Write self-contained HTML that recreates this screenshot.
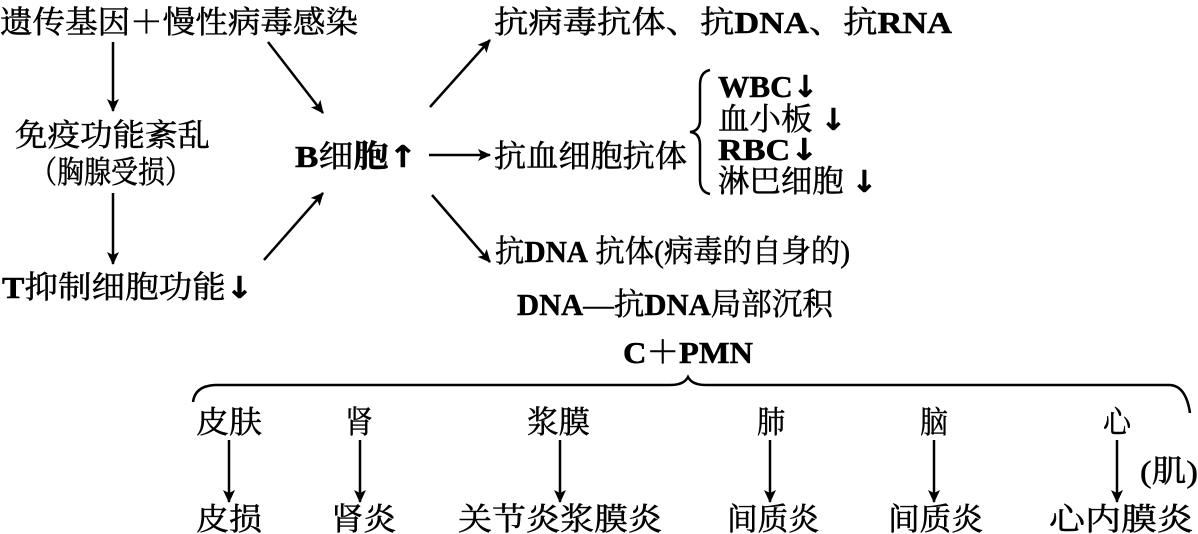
<!DOCTYPE html>
<html><head><meta charset="utf-8"><style>
html,body{margin:0;padding:0;background:#fff;}
svg{display:block;}
text{font-family:"Liberation Serif","Noto Serif CJK SC",serif;fill:#000;font-size:31px;stroke:#000;stroke-width:0.5px;}
.b{font-weight:bold;}
.ar{font-family:"DejaVu Sans",sans-serif;font-weight:bold;font-size:30px;}
</style></head><body>
<svg width="1198" height="534" viewBox="0 0 1198 534" xmlns="http://www.w3.org/2000/svg">
<defs>
<marker id="a" markerWidth="14" markerHeight="14" refX="12" refY="6" orient="auto" markerUnits="userSpaceOnUse">
<path d="M0,0 L13,6 L0,12 L3,6 Z" fill="#000"/>
</marker>
</defs>
<g stroke="#000" stroke-width="2.5" fill="none">
<line x1="113" y1="42" x2="113" y2="111" marker-end="url(#a)"/>
<line x1="113" y1="193" x2="113" y2="264" marker-end="url(#a)"/>
<line x1="268" y1="42" x2="323" y2="113" marker-end="url(#a)"/>
<line x1="264" y1="260" x2="323" y2="193" marker-end="url(#a)"/>
<line x1="430" y1="107" x2="490" y2="40" marker-end="url(#a)"/>
<line x1="429" y1="155" x2="490" y2="155" marker-end="url(#a)"/>
<line x1="432" y1="195" x2="490" y2="262" marker-end="url(#a)"/>
<path d="M710,70 Q700,72 700,85 L700,120 Q700,131 690,132 Q700,133 700,145 L700,180 Q700,192 710,194"/>
<path d="M193,402 Q195,386 215,385 L670,385 Q684,385 688,377 Q692,385 706,385 L1170,385 Q1186,386 1190,413"/>
<line x1="229" y1="440" x2="229" y2="502" marker-end="url(#a)"/>
<line x1="360" y1="440" x2="360" y2="502" marker-end="url(#a)"/>
<line x1="560" y1="440" x2="560" y2="502" marker-end="url(#a)"/>
<line x1="770" y1="440" x2="770" y2="502" marker-end="url(#a)"/>
<line x1="934" y1="440" x2="934" y2="502" marker-end="url(#a)"/>
<line x1="1117" y1="440" x2="1117" y2="502" marker-end="url(#a)"/>
</g>
<text x="0" y="33" textLength="358" lengthAdjust="spacingAndGlyphs">遗传基因＋慢性病毒感染</text>
<text x="15" y="146" textLength="195" lengthAdjust="spacingAndGlyphs">免疫功能紊乱</text>
<text x="30" y="183" textLength="162" lengthAdjust="spacingAndGlyphs">（胸腺受损）</text>
<text x="2" y="298" textLength="251" lengthAdjust="spacingAndGlyphs"><tspan class="b">T</tspan>抑制细胞功能<tspan class="ar">↓</tspan></text>
<text x="295" y="167" textLength="122" lengthAdjust="spacingAndGlyphs"><tspan class="b">B</tspan>细<tspan class="b">胞</tspan><tspan class="ar">↑</tspan></text>
<text x="494" y="33" textLength="458" lengthAdjust="spacingAndGlyphs">抗病毒抗体、抗<tspan class="b">DNA</tspan>、抗<tspan class="b">RNA</tspan></text>
<text x="494" y="167" textLength="193" lengthAdjust="spacingAndGlyphs">抗血细胞抗体</text>
<text x="718" y="97" font-size="28" textLength="100" lengthAdjust="spacingAndGlyphs"><tspan class="b">WBC</tspan><tspan class="ar">↓</tspan></text>
<text x="718" y="130" font-size="28" textLength="128" lengthAdjust="spacingAndGlyphs">血小板 <tspan class="ar">↓</tspan></text>
<text x="718" y="160" font-size="28" textLength="100" lengthAdjust="spacingAndGlyphs"><tspan class="b">RBC</tspan><tspan class="ar">↓</tspan></text>
<text x="718" y="192" font-size="28" textLength="159" lengthAdjust="spacingAndGlyphs">淋巴细胞 <tspan class="ar">↓</tspan></text>
<text x="495" y="262" textLength="355" lengthAdjust="spacingAndGlyphs">抗<tspan class="b">DNA</tspan> 抗体(病毒的自身的)</text>
<text x="517" y="315" textLength="316" lengthAdjust="spacingAndGlyphs"><tspan class="b">DNA</tspan>—抗<tspan class="b">DNA</tspan>局部沉积</text>
<text x="623" y="363" class="b" textLength="130" lengthAdjust="spacingAndGlyphs">C＋PMN</text>
<text x="196" y="433" textLength="66" lengthAdjust="spacingAndGlyphs">皮肤</text>
<text x="345" y="433" textLength="28" lengthAdjust="spacingAndGlyphs">肾</text>
<text x="527" y="433" textLength="63" lengthAdjust="spacingAndGlyphs">浆膜</text>
<text x="757" y="433" textLength="28" lengthAdjust="spacingAndGlyphs">肺</text>
<text x="920" y="433" textLength="28" lengthAdjust="spacingAndGlyphs">脑</text>
<text x="1103" y="433" textLength="28" lengthAdjust="spacingAndGlyphs">心</text>
<text x="1140" y="482" textLength="58" lengthAdjust="spacingAndGlyphs">(肌)</text>
<text x="196" y="530" textLength="66" lengthAdjust="spacingAndGlyphs">皮损</text>
<text x="331" y="530" textLength="65" lengthAdjust="spacingAndGlyphs">肾炎</text>
<text x="458" y="530" textLength="204" lengthAdjust="spacingAndGlyphs">关节炎浆膜炎</text>
<text x="727" y="530" textLength="92" lengthAdjust="spacingAndGlyphs">间质炎</text>
<text x="888" y="530" textLength="95" lengthAdjust="spacingAndGlyphs">间质炎</text>
<text x="1049" y="530" textLength="144" lengthAdjust="spacingAndGlyphs">心内膜炎</text>
</svg>
</body></html>
